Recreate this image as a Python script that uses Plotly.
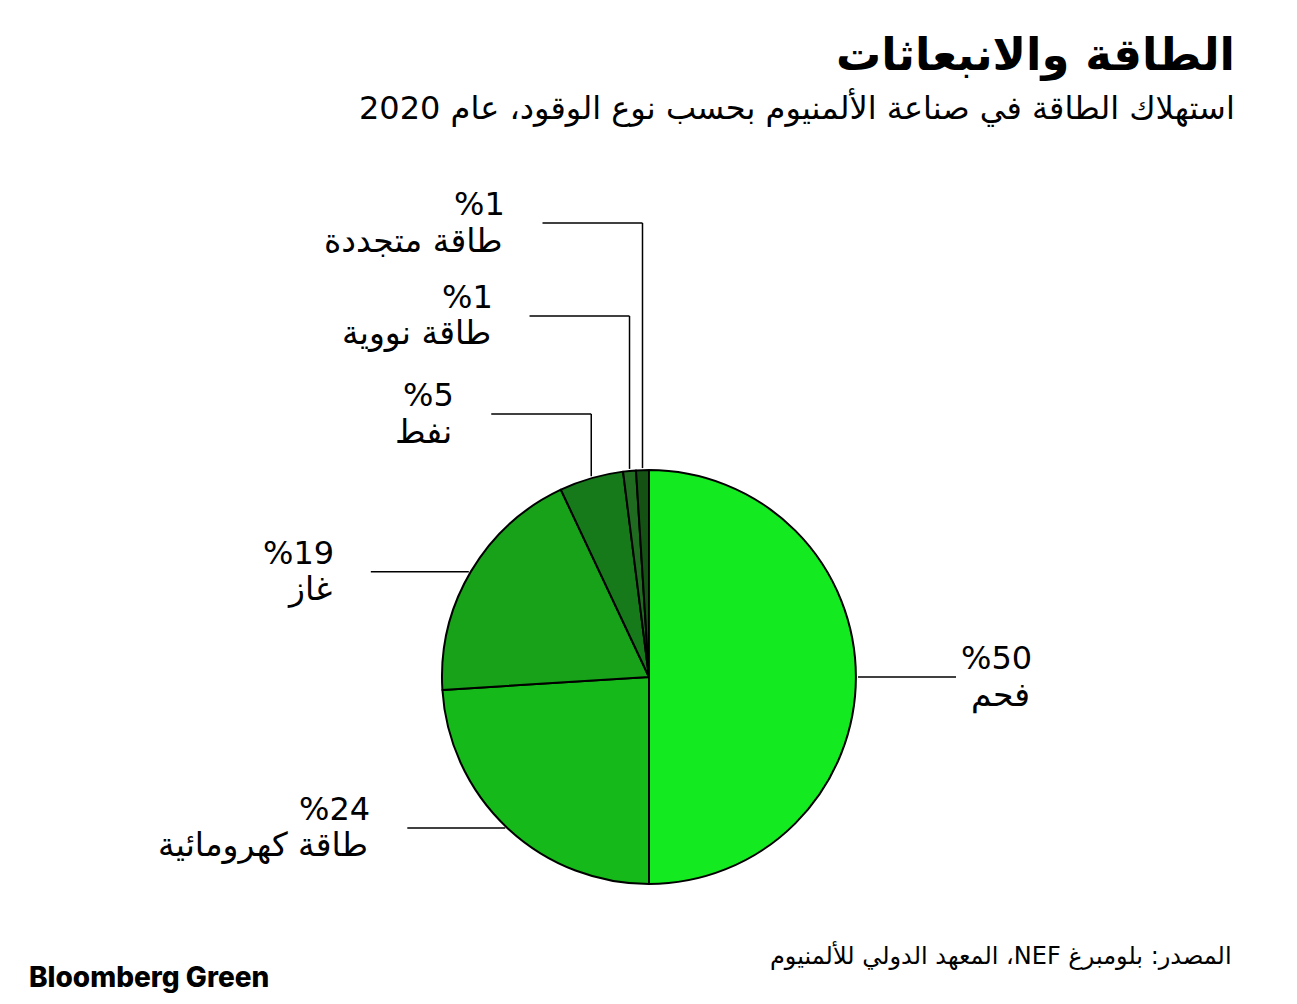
import math
import plotly.graph_objects as go

# ---- data ----
categories = ["فحم", "طاقة كهرومائية", "غاز", "نفط", "طاقة نووية", "طاقة متجددة"]
shares = [50, 24, 19, 5, 1, 1]
colors = ["#14ea20", "#16b91a", "#17a21a", "#167a1a", "#1f6b1f", "#135213"]

title = "الطاقة والانبعاثات"
subtitle = "استهلاك الطاقة في صناعة الألمنيوم بحسب نوع الوقود، عام 2020"
source = "المصدر: بلومبرغ NEF، المعهد الدولي للألمنيوم"
brand = "Bloomberg Green"

# ---- layout config ----
W, H = 1297, 1004
CX, CY, R = 649, 677, 207          # pie centre / radius in pixels
leader = [("h", 1), ("h", -1), ("h", -1), ("elbow", 414), ("elbow", 316), ("elbow", 223)]
LEAD_LEN = 100
FONT = "DejaVu Sans, sans-serif"
RLE, PDF = "\u202B", "\u202C"

fig = go.Figure()
fig.add_trace(go.Pie(
    labels=categories, values=shares, sort=False, direction="clockwise", rotation=0,
    marker=dict(colors=colors, line=dict(color="#000000", width=2)),
    textinfo="none", hoverinfo="label+percent", showlegend=False,
    domain=dict(x=[(CX - R) / W, (CX + R) / W], y=[1 - (CY + R) / H, 1 - (CY - R) / H]),
))

def px2paper(x, y):
    return x / W, 1 - y / H

shapes = []
annotations = []
total = sum(shares)
cum = 0
for cat, v, ld in zip(categories, shares, leader):
    mid = (cum + v / 2) / total * 2 * math.pi
    cum += v
    ex = CX + R * math.sin(mid)
    ey = CY - R * math.cos(mid)
    if ld[0] == "h":
        d = ld[1]
        x1 = ex + d * LEAD_LEN
        pts = [(ex + 2 * d, ey), (x1, ey)]
        ly = ey
    else:
        ly = ld[1]
        x1 = ex - LEAD_LEN
        pts = [(ex, ey - 2), (ex, ly), (x1, ly)]
        d = -1
    for (ax, ay), (bx, by) in zip(pts[:-1], pts[1:]):
        a = px2paper(ax, ay)
        b = px2paper(bx, by)
        shapes.append(dict(type="line", xref="paper", yref="paper", x0=a[0], y0=a[1], x1=b[0], y1=b[1],
                           line=dict(color="#000000", width=1.5)))
    tx, ty = px2paper(x1, ly)
    xs = 78 if d > 0 else -35
    annotations.append(dict(
        x=tx, y=ty, xref="paper", yref="paper", text="%" + str(v),
        showarrow=False, xanchor="right", yanchor="middle", xshift=xs, yshift=19,
        font=dict(family=FONT, size=32, color="#000000"),
    ))
    annotations.append(dict(
        x=tx, y=ty, xref="paper", yref="paper", text=RLE + cat + PDF,
        showarrow=False, xanchor="right", yanchor="middle", xshift=xs - 2, yshift=-17,
        font=dict(family=FONT, size=33, color="#000000"),
    ))

annotations += [
    dict(x=1237 / W, y=1 - 55 / H, xref="paper", yref="paper", text="<b>" + RLE + title + PDF + "</b>",
         showarrow=False, xanchor="right", yanchor="middle",
         font=dict(family=FONT, size=45, color="#000000")),
    dict(x=1237 / W, y=1 - 107 / H, xref="paper", yref="paper", text=RLE + subtitle + PDF,
         showarrow=False, xanchor="right", yanchor="middle",
         font=dict(family=FONT, size=32, color="#000000")),
    dict(x=1234 / W, y=1 - 955 / H, xref="paper", yref="paper", text=RLE + source + PDF,
         showarrow=False, xanchor="right", yanchor="middle",
         font=dict(family=FONT, size=24, color="#000000")),
    dict(x=27 / W, y=1 - 977 / H, xref="paper", yref="paper", text=brand,
         showarrow=False, xanchor="left", yanchor="middle",
         font=dict(family="Inter, Roboto, sans-serif", size=28, color="#000000", weight=800)),
]

fig.update_layout(
    width=W, height=H, margin=dict(l=0, r=0, t=0, b=0),
    paper_bgcolor="#ffffff", plot_bgcolor="#ffffff",
    shapes=shapes, annotations=annotations,
)

fig.write_html("out.html")
